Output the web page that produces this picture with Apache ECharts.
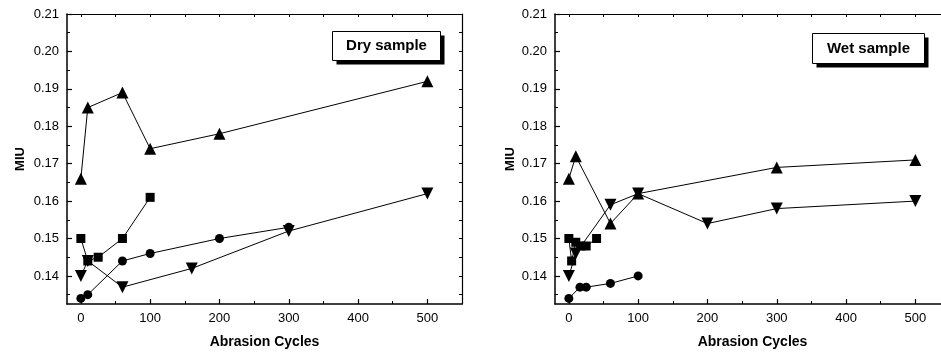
<!DOCTYPE html>
<html>
<head>
<meta charset="utf-8">
<script src="https://cdn.jsdelivr.net/npm/echarts@6/dist/echarts.min.js"></script>
<style>
  html, body { margin: 0; padding: 0; background: #fff; }
  #chart { width: 941px; height: 356px; }
</style>
</head>
<body>
<div id="chart"></div>
<script>
// data: [abrasion cycles, MIU]
const dryTriUp   = [[0, 0.166], [10, 0.185], [60, 0.189], [100, 0.174], [200, 0.178], [500, 0.192]];
const drySquare  = [[0, 0.150], [10, 0.144], [25, 0.145], [60, 0.150], [100, 0.161]];
const dryCircle  = [[0, 0.134], [10, 0.135], [60, 0.144], [100, 0.146], [200, 0.150], [300, 0.153]];
const dryTriDown = [[0, 0.140], [10, 0.144], [60, 0.137], [160, 0.142], [300, 0.152], [500, 0.162]];

const wetTriUp   = [[0, 0.166], [10, 0.172], [60, 0.154], [100, 0.162], [300, 0.169], [500, 0.171]];
const wetSquare  = [[0, 0.150], [4, 0.144], [10, 0.149], [17, 0.148], [25, 0.148], [40, 0.150]];
const wetCircle  = [[0, 0.134], [16, 0.137], [25, 0.137], [60, 0.138], [100, 0.140]];
const wetTriDown = [[0, 0.140], [10, 0.146], [60, 0.159], [100, 0.162], [200, 0.154], [300, 0.158], [500, 0.160]];

const xMajor = [0, 100, 200, 300, 400, 500];
const xMinor = [50, 150, 250, 350, 450];
const yMajor = [0.14, 0.15, 0.16, 0.17, 0.18, 0.19, 0.20, 0.21];
const yMinor = [0.135, 0.145, 0.155, 0.165, 0.175, 0.185, 0.195, 0.205];

const panelTitles = ['Dry sample', 'Wet sample'];

const FONT = 'Liberation Sans';
const X_MIN = -20, X_MAX = 550, Y_MIN = 0.1325, Y_MAX = 0.21;

const chart = echarts.init(document.getElementById('chart'));

// the right panel runs past the edge of the picture, like in the scan
const grids = [
  { left: 67, top: 14, width: 395, height: 290, outerBoundsMode: 'none' },
  { left: 555, top: 14, width: 395, height: 290, outerBoundsMode: 'none' }
];

const xAxes = [];
const yAxes = [];

function addAxes(g, nameGapY) {
  // main bottom axis with labels
  xAxes.push({
    gridIndex: g, type: 'value', min: X_MIN, max: X_MAX, position: 'bottom',
    name: 'Abrasion Cycles', nameLocation: 'middle', nameGap: 31,
    nameTextStyle: { fontFamily: FONT, fontWeight: 'bold', fontSize: 14, color: '#000' },
    axisLine: { onZero: false, lineStyle: { color: '#000', width: 1.5 } },
    axisTick: { inside: true, length: 5, customValues: xMajor, lineStyle: { color: '#000', width: 1.2 } },
    axisLabel: { customValues: xMajor, margin: 8, fontFamily: FONT, fontSize: 13, color: '#000' },
    splitLine: { show: false }
  });
  // minor ticks bottom
  xAxes.push({
    gridIndex: g, type: 'value', min: X_MIN, max: X_MAX, position: 'bottom',
    axisLine: { show: false, onZero: false },
    axisTick: { inside: true, length: 3, customValues: xMinor, lineStyle: { color: '#000' } },
    axisLabel: { show: false }, splitLine: { show: false }
  });
  // top mirrored axis
  xAxes.push({
    gridIndex: g, type: 'value', min: X_MIN, max: X_MAX, position: 'top',
    axisLine: { onZero: false, lineStyle: { color: '#000', width: 1.2 } },
    axisTick: { inside: true, length: 3, customValues: xMajor.concat(xMinor), lineStyle: { color: '#000' } },
    axisLabel: { show: false }, splitLine: { show: false }
  });

  yAxes.push({
    gridIndex: g, type: 'value', min: Y_MIN, max: Y_MAX, position: 'left',
    name: 'MIU', nameLocation: 'middle', nameGap: nameGapY, nameRotate: 90,
    nameTextStyle: { fontFamily: FONT, fontWeight: 'bold', fontSize: 13, color: '#000' },
    axisLine: { onZero: false, lineStyle: { color: '#000', width: 1.5 } },
    axisTick: { inside: true, length: 5, customValues: yMajor, lineStyle: { color: '#000', width: 1.2 } },
    axisLabel: { customValues: yMajor, margin: 8, fontFamily: FONT, fontSize: 13, color: '#000',
      formatter: v => v.toFixed(2) },
    splitLine: { show: false }
  });
  yAxes.push({
    gridIndex: g, type: 'value', min: Y_MIN, max: Y_MAX, position: 'left',
    axisLine: { show: false, onZero: false },
    axisTick: { inside: true, length: 3, customValues: yMinor, lineStyle: { color: '#000' } },
    axisLabel: { show: false }, splitLine: { show: false }
  });
  yAxes.push({
    gridIndex: g, type: 'value', min: Y_MIN, max: Y_MAX, position: 'right',
    axisLine: { onZero: false, lineStyle: { color: '#000', width: 1.2 } },
    axisTick: { inside: true, length: 3, customValues: yMajor.concat(yMinor), lineStyle: { color: '#000' } },
    axisLabel: { show: false }, splitLine: { show: false }
  });
}

addAxes(0, 40);
addAxes(1, 38);

function line(g, data, symbol, size, rotate) {
  return {
    type: 'line', xAxisIndex: g * 3, yAxisIndex: g * 3, data: data,
    symbol: symbol, symbolSize: size, symbolRotate: rotate || 0,
    itemStyle: { color: '#000' },
    lineStyle: { color: '#000', width: 1 },
    animation: false, z: 3
  };
}

const series = [
  line(0, dryTriUp, 'triangle', 12),
  line(0, drySquare, 'rect', 9),
  line(0, dryCircle, 'circle', 9),
  line(0, dryTriDown, 'triangle', 12, 180),
  line(1, wetTriUp, 'triangle', 12),
  line(1, wetSquare, 'rect', 9),
  line(1, wetCircle, 'circle', 9),
  line(1, wetTriDown, 'triangle', 12, 180)
];

function titleBox(x, y, w, h, text) {
  return {
    type: 'group', left: x, top: y,
    children: [
      { type: 'rect', shape: { x: 4, y: 4, width: w, height: h }, style: { fill: '#000' } },
      { type: 'rect', shape: { x: 0, y: 0, width: w, height: h }, style: { fill: '#fff', stroke: '#000', lineWidth: 1 } },
      { type: 'text', x: w / 2, y: h / 2, style: { text: text, fill: '#000', font: 'bold 15px ' + FONT, align: 'center', verticalAlign: 'middle' } }
    ]
  };
}

chart.setOption({
  backgroundColor: '#fff',
  animation: false,
  grid: grids,
  xAxis: xAxes,
  yAxis: yAxes,
  series: series,
  graphic: [
    titleBox(332, 31, 108, 29, panelTitles[0]),
    titleBox(812, 33, 112, 30, panelTitles[1])
  ]
});
</script>
</body>
</html>
